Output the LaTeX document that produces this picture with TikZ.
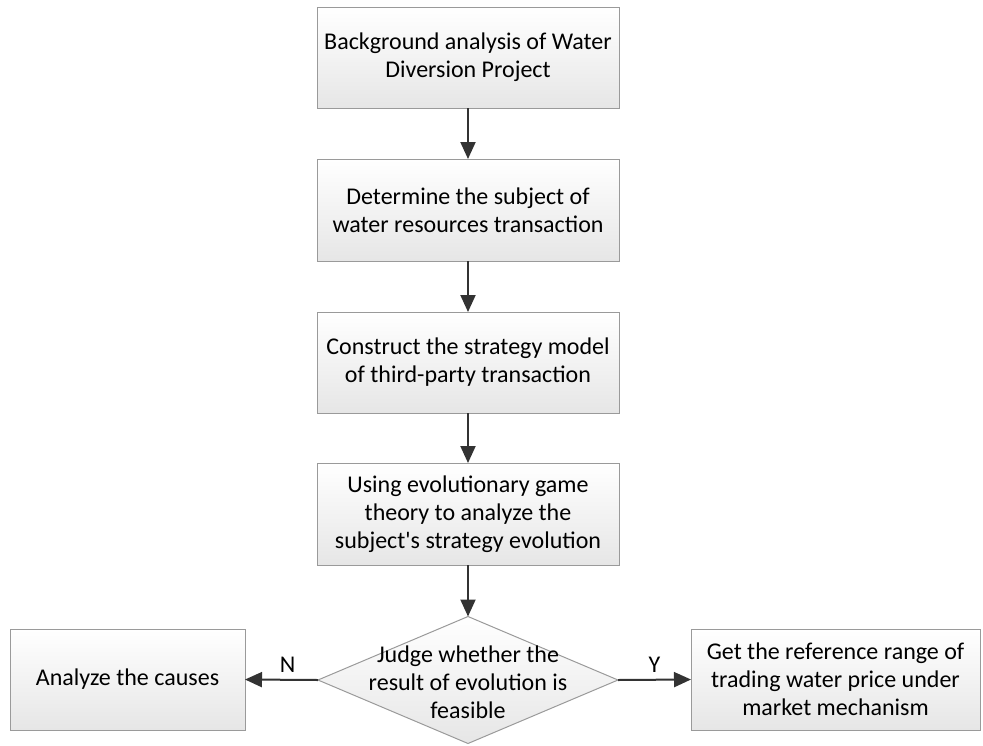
\documentclass[tikz,border=0pt]{standalone}
\usepackage{fontspec}
\setmainfont{Carlito}
\usetikzlibrary{arrows.meta,shapes.geometric}
\definecolor{edgegray}{HTML}{9A9A9A}
\definecolor{linedark}{HTML}{333333}
\definecolor{fillbot}{HTML}{E6E6E6}
\begin{document}
\begin{tikzpicture}[x=1pt,y=-1pt,
  box/.style={draw=edgegray, line width=1pt, top color=white, bottom color=fillbot,
    inner sep=0pt, outer sep=0pt, align=center, font=\fontsize{24}{28}\selectfont},
  conn/.style={draw=linedark, line width=2pt,
    -{Triangle[length=17pt,width=15pt]}},
  lbl/.style={font=\fontsize{24}{28}\selectfont, text=black}]
\useasboundingbox (0,0) rectangle (983,745);
\node[box, minimum width=302pt, minimum height=101pt] (b1) at (468,57.5)
  {Background analysis of Water\\Diversion Project};
\node[box, minimum width=302pt, minimum height=102pt] (b2) at (468,210)
  {Determine the subject of\\water resources transaction};
\node[box, minimum width=302pt, minimum height=101pt] (b3) at (468,362.5)
  {Construct the strategy model\\of third-party transaction};
\node[box, minimum width=302pt, minimum height=102pt] (b4) at (468,514)
  {Using evolutionary game\\theory to analyze the\\subject\textquotesingle s strategy evolution};
\node[diamond, draw=edgegray, line width=1pt, top color=white, bottom color=fillbot,
  minimum width=300pt, minimum height=127pt, inner sep=0pt, outer sep=0pt] (d) at (468,680) {};
\node[lbl, align=center] (dt) at (468,682) {Judge whether the\\result of evolution is\\feasible};
\node[box, minimum width=235pt, minimum height=101pt] (bl) at (127.5,679.5)
  {Analyze the causes};
\node[box, minimum width=289pt, minimum height=101pt] (br) at (835.5,679.5)
  {Get the reference range of\\trading water price under\\market mechanism};
\draw[conn] (b1.south) -- (b2.north);
\draw[conn] (b2.south) -- (b3.north);
\draw[conn] (b3.south) -- (b4.north);
\draw[conn] (b4.south) -- (d.north);
\draw[conn] (d.west) -- (bl.east) node[lbl, midway, above=3pt, xshift=6pt] (n) {N};
\draw[conn] (d.east) -- (br.west) node[lbl, midway, above=3pt] (y) {Y};
\end{tikzpicture}
\end{document}
